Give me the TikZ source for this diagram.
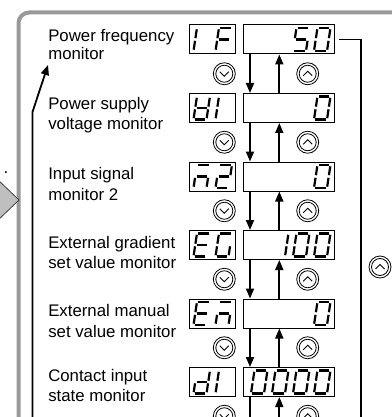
\documentclass[tikz,border=0pt]{standalone}
\usepackage{fontspec}
\setmainfont{Liberation Sans}
\usetikzlibrary{arrows.meta,calc}
\expandafter\def\csname sga\endcsname{(1.3,-23) -- (11.7,-23)}
\expandafter\def\csname sgb\endcsname{(13,-21.7) -- (13,-12.8)}
\expandafter\def\csname sgc\endcsname{(13,-10.2) -- (13,-1.3)}
\expandafter\def\csname sgd\endcsname{(1.3,0) -- (11.7,0)}
\expandafter\def\csname sge\endcsname{(0,-1.3) -- (0,-10.2)}
\expandafter\def\csname sgf\endcsname{(0,-12.8) -- (0,-21.7)}
\expandafter\def\csname sgg\endcsname{(1.3,-11.5) -- (11.7,-11.5)}
\newcommand{\segs}[3]{\begin{scope}[shift={(#1,#2)},xslant=0.15]
\foreach \q in {#3}{\edef\tmp{\noexpand\draw[segline] \csname sg\q\endcsname;}\tmp}
\end{scope}}
\tikzset{
  segline/.style={line width=1.65pt,line cap=butt,black},
  disp/.style={draw=black,line width=0.75pt,minimum height=21.75pt,inner sep=0pt},
  smalldisp/.style={disp,minimum width=34.5pt},
  bigdisp/.style={disp,minimum width=68.25pt},
  lbl/.style={anchor=base west,inner sep=0pt,font=\fontsize{12.6}{15}\selectfont},
  arr/.style={line width=1.35pt,-{Triangle[length=7.5pt,width=6pt]}},
  plain/.style={line width=1.35pt},
  btnline/.style={line width=0.6pt},
  dnbtn/.pic={\draw[btnline] (0,0) circle[radius=11] (0,0) circle[radius=8.5];
              \draw[btnline] (-4.5,-2) -- (0,2.5) -- (4.5,-2);},
  upbtn/.pic={\draw[btnline] (0,0) circle[radius=11] (0,0) circle[radius=8.5];
              \draw[btnline] (-4.5,2) -- (0,-2.5) -- (4.5,2);},
}
\begin{document}
\begin{tikzpicture}[x=0.75pt,y=-0.75pt]
\useasboundingbox (0,0) rectangle (392,417);
% frame
\draw[line width=3pt,color=black!40,rounded corners=8pt] (18.5,440) -- (18.5,12.5) -- (420,12.5);
% gray block arrow head
\draw[fill=black!25,draw=black!75,line width=0.6pt] (-4,178) -- (19,200) -- (-4,222) -- cycle;
\node[anchor=base,inner sep=0pt,font=\fontsize{12.6}{15}\selectfont] (dot) at (6,173) {.};
% coordinates for vertical connectors
\coordinate (xd) at (250,0);
\coordinate (xu) at (279.3,0);
\coordinate (xr) at (361,0);
\coordinate (bot) at (0,422);
% rows
\foreach \i/\T in {1/25,2/93.5,3/162,4/230.5,5/299,6/367.5}{
  \node[smalldisp] (s\i) at (212,\T+14.5) {};
  \node[bigdisp] (d\i) at (288.8,\T+14.5) {};
  \pic at (224.3,\T+48.75) {dnbtn};
  \pic at (307.7,\T+48.75) {upbtn};
}
\foreach \i/\j in {1/2,2/3,3/4,4/5,5/6}{
  \draw[arr] (s\i.south -| xd) -- (s\j.north -| xd);
  \draw[arr] (s\j.north -| xu) -- (s\i.south -| xu);
}
\draw[plain] (d6.south -| xd) -- (bot -| xd);
\draw[arr] (bot -| xu) -- (d6.south -| xu);
% right return line
\coordinate (rs) at ($(d1.east)+(4.5,0)$);
\draw[plain] (rs) -- (rs -| xr) -- (bot -| xr);
\pic at (380,267) {upbtn};
% left return arrow
\coordinate (lb) at (32.5,422);
\coordinate (lk) at (32.5,112);
\coordinate (lt) at (48,65);
\draw[arr] (lb) -- (lk) -- (lt);
% labels
\node[lbl] (l1a) at (48,41.5) {Power frequency};
\node[lbl] (l1b) at (48,60) {monitor};
\node[lbl] (l2a) at (48,110) {Power supply};
\node[lbl] (l2b) at (48,129.5) {voltage monitor};
\node[lbl] (l3a) at (48,179.5) {Input signal};
\node[lbl] (l3b) at (48,200) {monitor 2};
\node[lbl] (l4a) at (48,248) {External gradient};
\node[lbl] (l4b) at (48,268.5) {set value monitor};
\node[lbl] (l5a) at (48,316.5) {External manual};
\node[lbl] (l5b) at (48,337) {set value monitor};
\node[lbl] (l6a) at (48,381) {Contact input};
\node[lbl] (l6b) at (48,401) {state monitor};
% seven-segment characters
% row 1: I F | 5 0
\segs{193.5}{51}{e,f}\segs{215.5}{51}{a,e,f,g}
\segs{293}{51}{a,f,g,c,d}\segs{314}{51}{a,b,c,d,e,f}
% row 2: U-bar I | 0
\segs{193.5}{119.5}{b,c,d,e,f,g}\segs{215.5}{119.5}{e,f}
\segs{314}{119.5}{a,b,c,d,e,f}
% row 3: n-bar 2 | 0
\segs{193.5}{188}{a,c,e,g}\segs{215.5}{188}{a,b,g,e,d}
\segs{314}{188}{a,b,c,d,e,f}
% row 4: E G | 100
\segs{193.5}{256.5}{a,d,e,f,g}\segs{215.5}{256.5}{a,c,d,e,f}
\segs{272}{256.5}{b,c}\segs{293}{256.5}{a,b,c,d,e,f}\segs{314}{256.5}{a,b,c,d,e,f}
% row 5: E n-bar | 0
\segs{193.5}{325}{a,d,e,f,g}\segs{215.5}{325}{a,c,e,g}
\segs{314}{325}{a,b,c,d,e,f}
% row 6: d I | 0000
\segs{193.5}{393.5}{b,c,d,e,g}\segs{215.5}{393.5}{e,f}
\segs{251}{393.5}{a,b,c,d,e,f}\segs{272}{393.5}{a,b,c,d,e,f}\segs{293}{393.5}{a,b,c,d,e,f}\segs{314}{393.5}{a,b,c,d,e,f}
\end{tikzpicture}
\end{document}
